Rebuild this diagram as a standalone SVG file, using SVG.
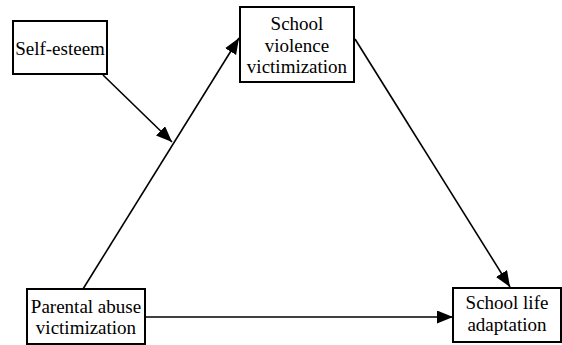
<svg xmlns="http://www.w3.org/2000/svg" width="562" height="345" viewBox="0 0 562 345">
<style>
.box{fill:#fff;stroke:#000;stroke-width:2}
.t{font-family:'Liberation Serif','DejaVu Serif',serif;font-size:19px;fill:#000;text-anchor:middle}
.c{stroke:#000;stroke-width:1.6;fill:none;marker-end:url(#ah)}
</style>
<defs>
<marker id="ah" markerUnits="userSpaceOnUse" markerWidth="18" markerHeight="14" refX="16" refY="6.5" orient="auto">
<path d="M0,0 L16,6.5 L0,13 Z" fill="#000"/>
</marker>
</defs>
<rect width="562" height="345" fill="#fff"/>
<g id="connectors">
<line class="c" x1="83" y1="289" x2="239" y2="38"/>
<line class="c" x1="103" y1="75" x2="172" y2="142"/>
<line class="c" x1="355" y1="39" x2="510" y2="287"/>
<line class="c" x1="145" y1="317" x2="453" y2="317"/>
</g>
<g id="self-esteem">
<rect class="box" x="13" y="21" width="94" height="53"/>
<text class="t" font-family="Liberation Serif, serif" x="60" y="55">Self-esteem</text>
</g>
<g id="school-violence">
<rect class="box" x="240" y="7" width="114" height="75"/>
<text class="t" font-family="Liberation Serif, serif" x="297" y="30">School</text>
<text class="t" font-family="Liberation Serif, serif" x="297" y="52">violence</text>
<text class="t" font-family="Liberation Serif, serif" x="297" y="73">victimization</text>
</g>
<g id="parental-abuse">
<rect class="box" x="27" y="289" width="118" height="55"/>
<text class="t" font-family="Liberation Serif, serif" x="86" y="313">Parental abuse</text>
<text class="t" font-family="Liberation Serif, serif" x="86" y="334">victimization</text>
</g>
<g id="school-life">
<rect class="box" x="453" y="288" width="108" height="54"/>
<text class="t" font-family="Liberation Serif, serif" x="507" y="309">School life</text>
<text class="t" font-family="Liberation Serif, serif" x="507" y="331">adaptation</text>
</g>
</svg>
